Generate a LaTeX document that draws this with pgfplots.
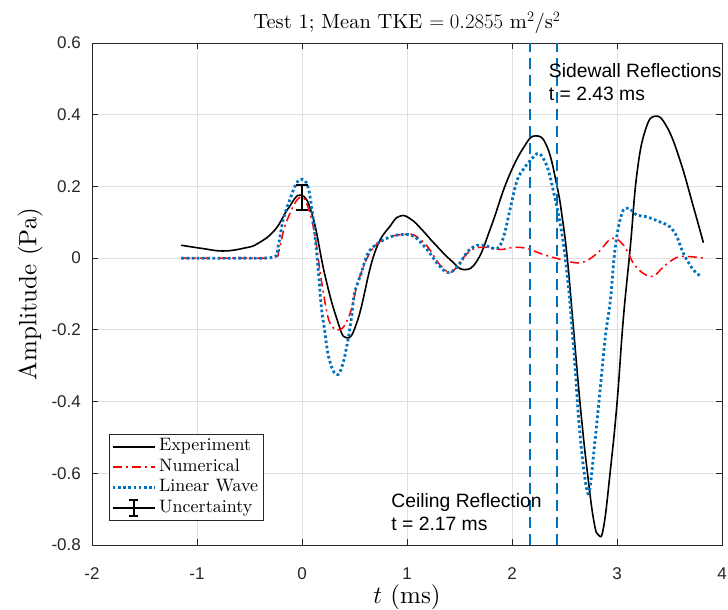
\documentclass[border=0pt]{standalone}
\usepackage{fontspec}
\setmainfont{lmroman10-regular.otf}[ItalicFont=lmroman10-italic.otf, BoldFont=lmroman10-bold.otf, BoldItalicFont=lmroman10-bolditalic.otf]
\usepackage{pgfplots}
\pgfplotsset{compat=1.18}
\newfontfamily\helv{Liberation Sans}
\definecolor{mblue}{rgb}{0,0.447,0.741}
\definecolor{axgray}{rgb}{0.15,0.15,0.15}
\definecolor{gridgray}{rgb}{0.88,0.88,0.88}

\begin{document}
\begin{tikzpicture}
\begin{axis}[
  scale only axis,
  width=630pt, height=502pt,
  xmin=-2, xmax=4, ymin=-0.8, ymax=0.6,
  xtick={-2,-1,0,1,2,3,4},
  ytick={-0.8,-0.6,-0.4,-0.2,0,0.2,0.4,0.6},
  tick pos=both, tick align=inside,
  major tick length=6pt,
  axis line style={axgray, line width=0.8pt},
  tick style={axgray, line width=0.8pt},
  grid=major,
  grid style={gridgray, line width=0.8pt},
  /pgf/number format/assume math mode=true,
  tick label style={font=\helv\fontsize{17}{19}\selectfont, text=axgray, inner sep=0pt},
  xticklabel style={anchor=center, yshift=-29pt},
  yticklabel style={anchor=east, xshift=-11pt},
  xlabel={$t$ (ms)},
  xlabel style={font=\fontsize{25}{27}\selectfont, at={(axis description cs:0.5,-0.1036)}, anchor=center},
  ylabel={Amplitude (Pa)},
  ylabel style={font=\fontsize{25}{27}\selectfont, at={(axis description cs:-0.0984,0.5)}, anchor=center},
  legend style={at={(axis description cs:0.027,0.221)}, anchor=north west,
    font=\fontsize{18}{20}\selectfont, draw=axgray, fill=white, line width=0.8pt,
    row sep=0pt, inner sep=2pt,
    nodes={inner ysep=2pt, inner xsep=3pt, text height=12.5pt, text depth=4pt}},
  legend cell align=left,
  legend image code/.code={\draw[#1] (0pt,0pt) -- (42pt,0pt);},
  clip=false,
]
% Experiment
\addplot[black, line width=1.6pt, smooth, tension=0.75] coordinates {
(-1.15,0.036) (-0.95,0.027) (-0.75,0.020) (-0.55,0.028) (-0.42,0.041) (-0.26,0.078)
(-0.13,0.139) (-0.01,0.176) (0.10,0.118) (0.215,-0.043) (0.326,-0.164) (0.42,-0.222)
(0.53,-0.173) (0.69,0.013) (0.848,0.093) (0.94,0.118) (1.04,0.108) (1.14,0.080)
(1.26,0.041) (1.418,-0.006) (1.544,-0.032) (1.67,-0.006) (1.80,0.087) (1.956,0.218)
(2.114,0.31) (2.225,0.341) (2.335,0.31) (2.43,0.199) (2.48,0.11) (2.525,0.004)
(2.575,-0.16) (2.625,-0.33) (2.67,-0.47) (2.715,-0.59) (2.778,-0.731) (2.826,-0.773)
(2.873,-0.749) (2.937,-0.591) (3.0,-0.405) (3.06,-0.17) (3.127,0.032) (3.19,0.236)
(3.27,0.357) (3.364,0.396) (3.475,0.366) (3.6,0.273) (3.728,0.143) (3.823,0.043)
};
\addlegendentry{Experiment}
% Numerical
\addplot[red, line width=1.5pt, dash pattern=on 9pt off 4pt on 2pt off 4pt, smooth, tension=0.6] coordinates {
(-1.15,0) (-0.6,0) (-0.27,0.002) (-0.22,0.02) (-0.165,0.087) (-0.07,0.152) (0.0,0.171)
(0.057,0.143) (0.12,0.069) (0.184,-0.061) (0.247,-0.164) (0.30,-0.195) (0.342,-0.20)
(0.40,-0.19) (0.468,-0.145) (0.53,-0.07) (0.627,0.004) (0.72,0.041) (0.848,0.06)
(0.96,0.066) (1.07,0.064) (1.196,0.032) (1.29,-0.01) (1.386,-0.038) (1.45,-0.033)
(1.544,0.004) (1.64,0.027) (1.766,0.03) (1.89,0.024) (2.02,0.03) (2.146,0.027)
(2.27,0.013) (2.43,-0.001) (2.65,-0.013) (2.81,0.013) (2.95,0.055) (3.063,0.036)
(3.158,-0.015) (3.253,-0.043) (3.348,-0.05) (3.443,-0.024) (3.57,0.002) (3.696,0.004)
(3.823,0)
};
\addlegendentry{Numerical}
% Linear wave
\addplot[mblue, line width=2.8pt, dash pattern=on 2.6pt off 2.6pt, smooth, tension=0.6] coordinates {
(-1.15,0) (-0.6,0) (-0.275,0.003) (-0.228,0.032) (-0.18,0.106) (-0.117,0.162)
(-0.054,0.208) (0.0,0.22) (0.057,0.199) (0.104,0.115) (0.152,-0.024) (0.184,-0.136)
(0.215,-0.2) (0.247,-0.266) (0.294,-0.312) (0.342,-0.325) (0.39,-0.294) (0.437,-0.229)
(0.468,-0.173) (0.5,-0.099) (0.563,-0.043) (0.627,0.013) (0.72,0.041) (0.848,0.06)
(0.96,0.066) (1.07,0.06) (1.196,0.022) (1.29,-0.015) (1.386,-0.04) (1.48,-0.024)
(1.576,0.018) (1.67,0.036) (1.766,0.033) (1.86,0.027) (1.92,0.06) (1.987,0.143)
(2.05,0.218) (2.114,0.25) (2.177,0.273) (2.256,0.292) (2.335,0.255) (2.4,0.18)
(2.446,0.115) (2.494,0.032) (2.541,-0.089) (2.573,-0.2) (2.60,-0.30) (2.636,-0.452)
(2.684,-0.591) (2.731,-0.656) (2.778,-0.545) (2.842,-0.359) (2.889,-0.219)
(2.937,-0.117) (2.984,0.032) (3.047,0.125) (3.11,0.139) (3.19,0.12) (3.285,0.115)
(3.41,0.101) (3.506,0.087) (3.57,0.06) (3.633,0.013) (3.728,-0.033) (3.807,-0.052)
};
\addlegendentry{Linear Wave}
% Uncertainty
\addplot[black, line width=1.5pt, mark=none,
  legend image code/.code={
    \draw[black, line width=1.5pt] (0pt,0pt) -- (42pt,0pt);
    \draw[black, line width=1.5pt] (21pt,-8pt) -- (21pt,8pt);
    \draw[black, line width=1.5pt] (16.5pt,-8pt) -- (25.5pt,-8pt);
    \draw[black, line width=1.5pt] (16.5pt,8pt) -- (25.5pt,8pt);
  },
  error bars/.cd, y dir=both, y explicit,
  error bar style={line width=1.5pt},
  error mark options={rotate=90, mark size=6pt, line width=1.5pt},
  ] coordinates {(0,0.169) +- (0,0.035)};
\addlegendentry{Uncertainty}
% Reflection markers
\addplot[mblue, line width=2pt, dash pattern=on 11pt off 6pt, forget plot] coordinates {(2.17,-0.8) (2.17,0.6)};
\addplot[mblue, line width=2pt, dash pattern=on 11pt off 6pt, forget plot] coordinates {(2.43,-0.8) (2.43,0.6)};
\node[anchor=base west, font=\helv\fontsize{19.3}{23}\selectfont, align=left, inner sep=0pt]
  at (axis cs:2.35,0.4407) {Sidewall Reflections\\t = 2.43 ms};
\node[anchor=base west, font=\helv\fontsize{19.3}{23}\selectfont, align=left, inner sep=0pt]
  at (axis cs:0.85,-0.7587) {Ceiling Reflection\\t = 2.17 ms};
\node[anchor=base, font=\fontsize{20.5}{23}\selectfont, inner sep=0pt]
  at (axis description cs:0.5,1.0279) {Test 1; Mean TKE $= 0.2855$ m$^2$/s$^2$};
\end{axis}
\pgfresetboundingbox
\path (-92pt,-65pt) rectangle (636pt,545pt);
\end{tikzpicture}
\end{document}
